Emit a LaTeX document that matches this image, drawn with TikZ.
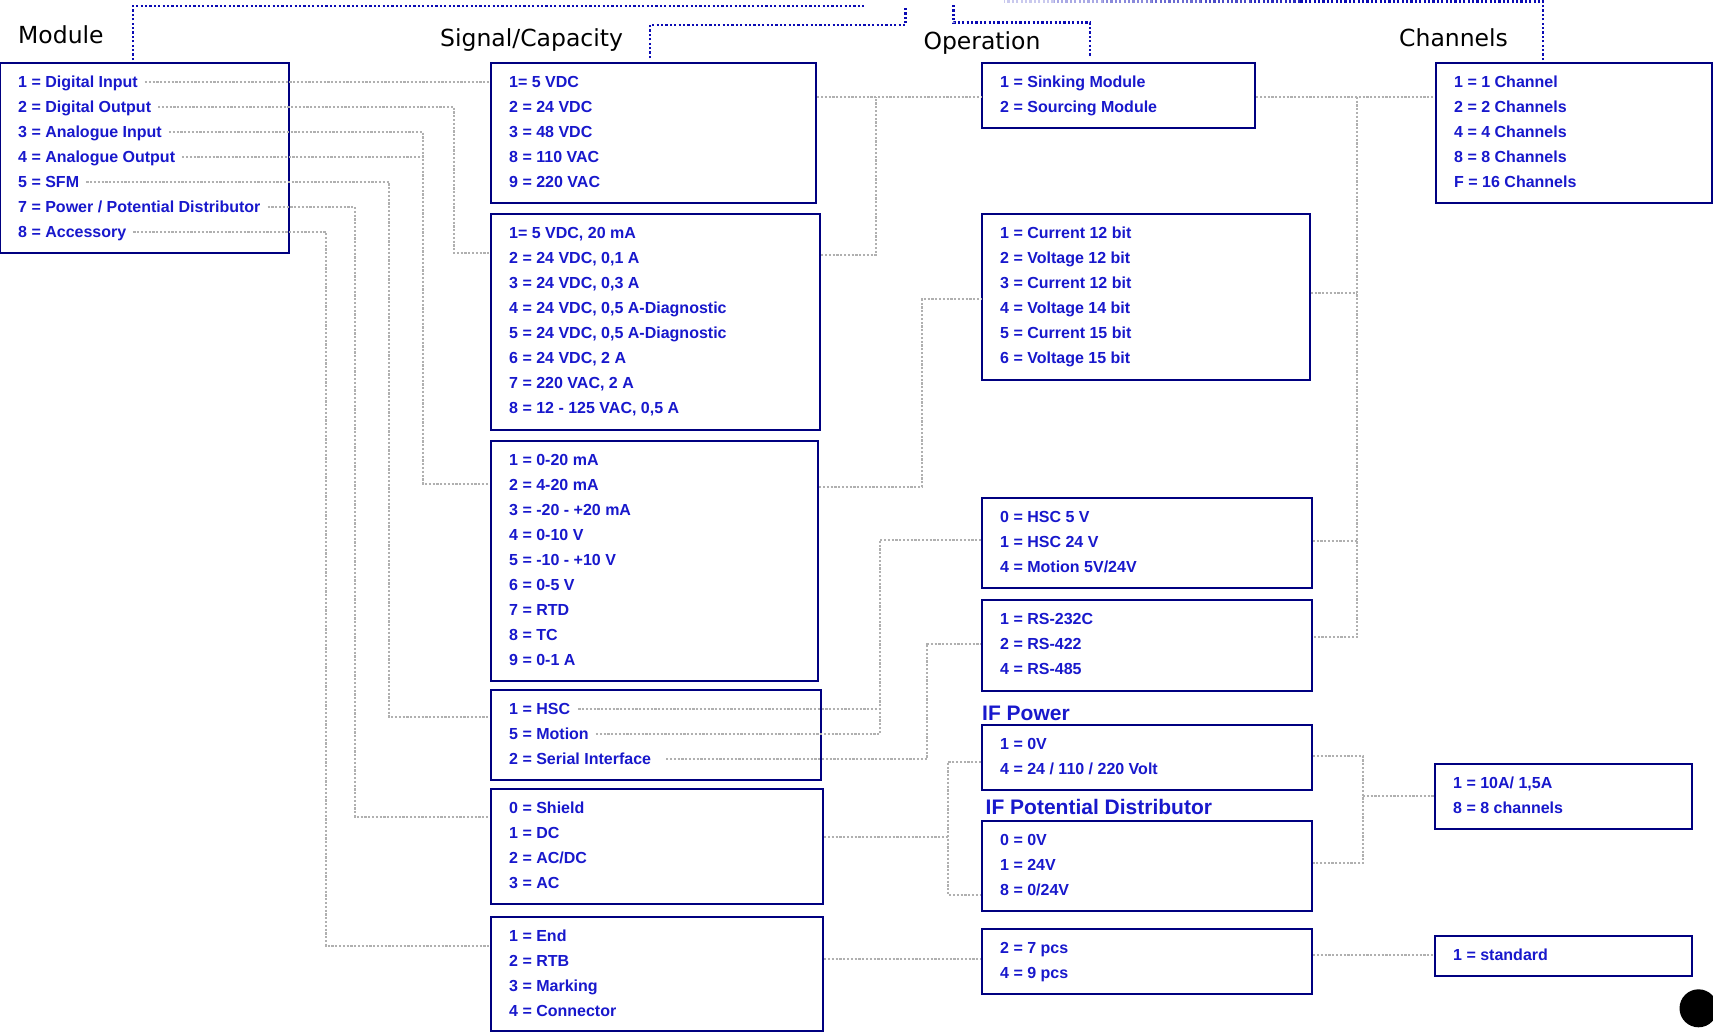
\documentclass[tikz,border=0pt]{standalone}
\usepackage{fontspec}
\setmainfont{Liberation Sans}
\newfontfamily\headfont{DejaVu Sans}
\definecolor{boxnavy}{HTML}{000080}
\definecolor{txtblue}{HTML}{1818CC}
\definecolor{dotgray}{HTML}{B0B0B0}
\definecolor{hblue}{HTML}{0A0AB4}
\newcommand\rowfont{\fontsize{16}{19}\selectfont\bfseries}
\newcommand\rowlist[4]{%
  \foreach \rowtext [count=\i] in {#4} {\node[row] (#1\i) at (#2,{#3+25*(\i-1)}) {\rowtext};}}
\tikzset{
  box/.style={draw=boxnavy, line width=2.2pt, inner sep=0pt, anchor=north west},
  row/.style={anchor=west, inner sep=0pt, text height=11.5pt, text depth=0pt, text=txtblue, font=\rowfont},
  head/.style={anchor=base west, inner sep=0pt, font=\headfont\fontsize{23.5}{27}\selectfont, text=black},
  iflabel/.style={anchor=base west, inner sep=0pt, font=\fontsize{21}{25}\selectfont\bfseries, text=txtblue},
  conn/.style={draw=dotgray, line width=2pt, dash pattern=on 2.2pt off 1.6pt},
  bdot/.style={draw=hblue, line width=2.6pt, dash pattern=on 2.2pt off 2.2pt},
}
\begin{document}
\begin{tikzpicture}[x=1pt,y=-1pt]
\useasboundingbox (0,0) rectangle (1713,1031);
\fill[white] (0,0) rectangle (1713,1031);

% headings
\node[head] (hMod) at (18,43.3) {Module};
\node[head] (hSig) at (440,46.7) {Signal/Capacity};
\node[head] (hOp) at (923.3,49.3) {Operation};
\node[head] (hCh) at (1399,46.7) {Channels};
\node[iflabel] (lIFP) at (982,720.7) {IF Power};
\node[iflabel] (lIFD) at (985.5,814.3) {IF Potential Distributor};

% boxes
\node[box, minimum width=289pt, minimum height=190pt] (mod) at (-1,62) {};
\node[box, minimum width=325.5pt, minimum height=140pt] (sigA) at (489.5,62) {};
\node[box, minimum width=329.5pt, minimum height=215.5pt] (sigB) at (489.5,213) {};
\node[box, minimum width=327.5pt, minimum height=240pt] (sigC) at (489.5,440) {};
\node[box, minimum width=330.5pt, minimum height=90pt] (sigD) at (489.5,689) {};
\node[box, minimum width=332.5pt, minimum height=115pt] (sigE) at (489.5,788) {};
\node[box, minimum width=332.5pt, minimum height=114pt] (sigF) at (489.5,916) {};
\node[box, minimum width=273pt, minimum height=65pt] (opA) at (981,62) {};
\node[box, minimum width=327.5pt, minimum height=165.5pt] (opB) at (981,213) {};
\node[box, minimum width=329.5pt, minimum height=90.5pt] (opC) at (981,496.5) {};
\node[box, minimum width=329.5pt, minimum height=90.5pt] (opD) at (981,599) {};
\node[box, minimum width=330pt, minimum height=65pt] (opE) at (981,724) {};
\node[box, minimum width=330pt, minimum height=90pt] (opF) at (981,820) {};
\node[box, minimum width=330pt, minimum height=65pt] (opG) at (981,928) {};
\node[box, minimum width=276.5pt, minimum height=140pt] (chA) at (1434.5,62) {};
\node[box, minimum width=257pt, minimum height=65pt] (chB) at (1434,763) {};
\node[box, minimum width=257pt, minimum height=40pt] (chC) at (1434,935) {};

% rows
\rowlist{m}{18}{82}{{1 = Digital Input},{2 = Digital Output},{3 = Analogue Input},{4 = Analogue Output},{5 = SFM},{7 = Power / Potential Distributor},{8 = Accessory}}
\rowlist{a}{509}{82}{{1= 5 VDC},{2 = 24 VDC},{3 = 48 VDC},{8 = 110 VAC},{9 = 220 VAC}}
\rowlist{b}{509}{233}{{1= 5 VDC, 20 mA},{2 = 24 VDC, 0,1 A},{3 = 24 VDC, 0,3 A},{4 = 24 VDC, 0,5 A-Diagnostic},{5 = 24 VDC, 0,5 A-Diagnostic},{6 = 24 VDC, 2 A},{7 = 220 VAC, 2 A},{8 = 12 - 125 VAC, 0,5 A}}
\rowlist{c}{509}{460}{{1 = 0-20 mA},{2 = 4-20 mA},{3 = -20 - +20 mA},{4 = 0-10 V},{5 = -10 - +10 V},{6 = 0-5 V},{7 = RTD},{8 = TC},{9 = 0-1 A}}
\rowlist{d}{509}{709}{{1 = HSC},{5 = Motion},{2 = Serial Interface}}
\rowlist{e}{509}{808}{{0 = Shield},{1 = DC},{2 = AC/DC},{3 = AC}}
\rowlist{f}{509}{936}{{1 = End},{2 = RTB},{3 = Marking},{4 = Connector}}
\rowlist{oa}{1000}{82}{{1 = Sinking Module},{2 = Sourcing Module}}
\rowlist{ob}{1000}{233}{{1 = Current 12 bit},{2 = Voltage 12 bit},{3 = Current 12 bit},{4 = Voltage 14 bit},{5 = Current 15 bit},{6 = Voltage 15 bit}}
\rowlist{oc}{1000}{516.5}{{0 = HSC 5 V},{1 = HSC 24 V},{4 = Motion 5V/24V}}
\rowlist{od}{1000}{618.5}{{1 = RS-232C},{2 = RS-422},{4 = RS-485}}
\rowlist{oe}{1000}{743.5}{{1 = 0V},{4 = 24 / 110 / 220 Volt}}
\rowlist{of}{1000}{839.5}{{0 = 0V},{1 = 24V},{8 = 0/24V}}
\rowlist{og}{1000}{948}{{2 = 7 pcs},{4 = 9 pcs}}
\rowlist{ca}{1454}{82}{{1 = 1 Channel},{2 = 2 Channels},{4 = 4 Channels},{8 = 8 Channels},{F = 16 Channels}}
\rowlist{cb}{1453}{783}{{1 = 10A/ 1,5A},{8 = 8 channels}}
\rowlist{cc}{1453}{955}{{1 = standard}}

% junction coordinates
\coordinate (jDO) at (454,253);
\coordinate (jAI) at (423,484);
\coordinate (jSFM) at (389,717);
\coordinate (jPPD) at (355,817);
\coordinate (jAcc) at (326,946);
\coordinate (yA) at (0,96.7);
\coordinate (jB) at (876,255);
\coordinate (jC1) at (922,487);
\coordinate (jC2) at (922,299);
\coordinate (jD) at (880,539.5);
\coordinate (jE) at (927,643.5);
\coordinate (jF0) at (948,836.5);
\coordinate (jF1) at (948,761.5);
\coordinate (jF2) at (948,894.5);
\coordinate (yG) at (0,959.3);
\coordinate (jH) at (1357,637);
\coordinate (yB) at (0,292.5);
\coordinate (yC) at (0,541);
\coordinate (jI0) at (1363,796);
\coordinate (jI1) at (1363,756);
\coordinate (jI2) at (1363,863);
\coordinate (yH) at (0,955);

% module -> signal
\draw[conn] ([xshift=7pt]m1.east) -- (m1.east -| sigA.west);
\draw[conn] ([xshift=7pt]m2.east) -| (jDO) -- (jDO -| sigB.west);
\draw[conn] ([xshift=7pt]m3.east) -| (jAI) -- (jAI -| sigC.west);
\draw[conn] ([xshift=7pt]m4.east) -- (m4.east -| jAI);
\draw[conn] ([xshift=7pt]m5.east) -| (jSFM) -- (jSFM -| sigD.west);
\draw[conn] ([xshift=7pt]m6.east) -| (jPPD) -- (jPPD -| sigE.west);
\draw[conn] ([xshift=7pt]m7.east) -| (jAcc) -- (jAcc -| sigF.west);

% signal -> operation
\draw[conn] (sigA.east |- yA) -- (opA.west |- yA);
\draw[conn] (sigB.east |- jB) -- (jB) -- (jB |- yA);
\draw[conn] (sigC.east |- jC1) -- (jC1) -- (jC2) -- (jC2 -| opB.west);
\draw[conn] ([xshift=8pt]d1.east) -- (d1.east -| jD);
\draw[conn] ([xshift=7pt]d2.east) -| (jD) -- (jD -| opC.west);
\draw[conn] ([xshift=15pt]d3.east) -| (jE) -- (jE -| opD.west);
\draw[conn] (sigE.east |- jF0) -- (jF0);
\draw[conn] (jF1 -| opE.west) -- (jF1) -- (jF2) -- (jF2 -| opF.west);
\draw[conn] (sigF.east |- yG) -- (opG.west |- yG);

% operation -> channels
\draw[conn] (opA.east |- yA) -- (chA.west |- yA);
\draw[conn] (jH |- yA) -- (jH) -- (jH -| opD.east);
\draw[conn] (opB.east |- yB) -- (jH |- yB);
\draw[conn] (opC.east |- yC) -- (jH |- yC);
\draw[conn] (jI1 -| opE.east) -- (jI1) -- (jI2) -- (jI2 -| opF.east);
\draw[conn] (jI0) -- (jI0 -| chB.west);
\draw[conn] (opG.east |- yH) -- (chC.west |- yH);

% blue header lines
\coordinate (ta1) at (133,60);
\coordinate (ta2) at (865,6);
\draw[bdot] (ta1) |- (ta2);
\coordinate (tb1) at (650,58);
\coordinate (tb2) at (905.7,25);
\coordinate (tb3) at (905.7,6.7);
\draw[bdot] (tb1) |- (tb2) -- (tb3);
\coordinate (tc1) at (953.5,5);
\coordinate (tc2) at (1090,22.7);
\coordinate (tc3) at (1090,57);
\draw[bdot] (tc1) |- (tc2) -- (tc3);
\coordinate (td1) at (1543,60);
\coordinate (td2) at (1543,1.2);
\coordinate (td3) at (1300,1.2);
\draw[bdot] (td1) -- (td2) -- (td3);
\foreach \k [evaluate=\k as \p using 100-\k*13] in {1,...,6}
  \draw[bdot, draw=hblue!\p!white] ({1300-(\k-1)*49.3},1.2) -- ({1300-\k*49.3},1.2);

% black dot
\node[circle, fill=black, minimum size=38pt, inner sep=0pt] (dot) at (1698.5,1008.3) {};
\end{tikzpicture}
\end{document}
